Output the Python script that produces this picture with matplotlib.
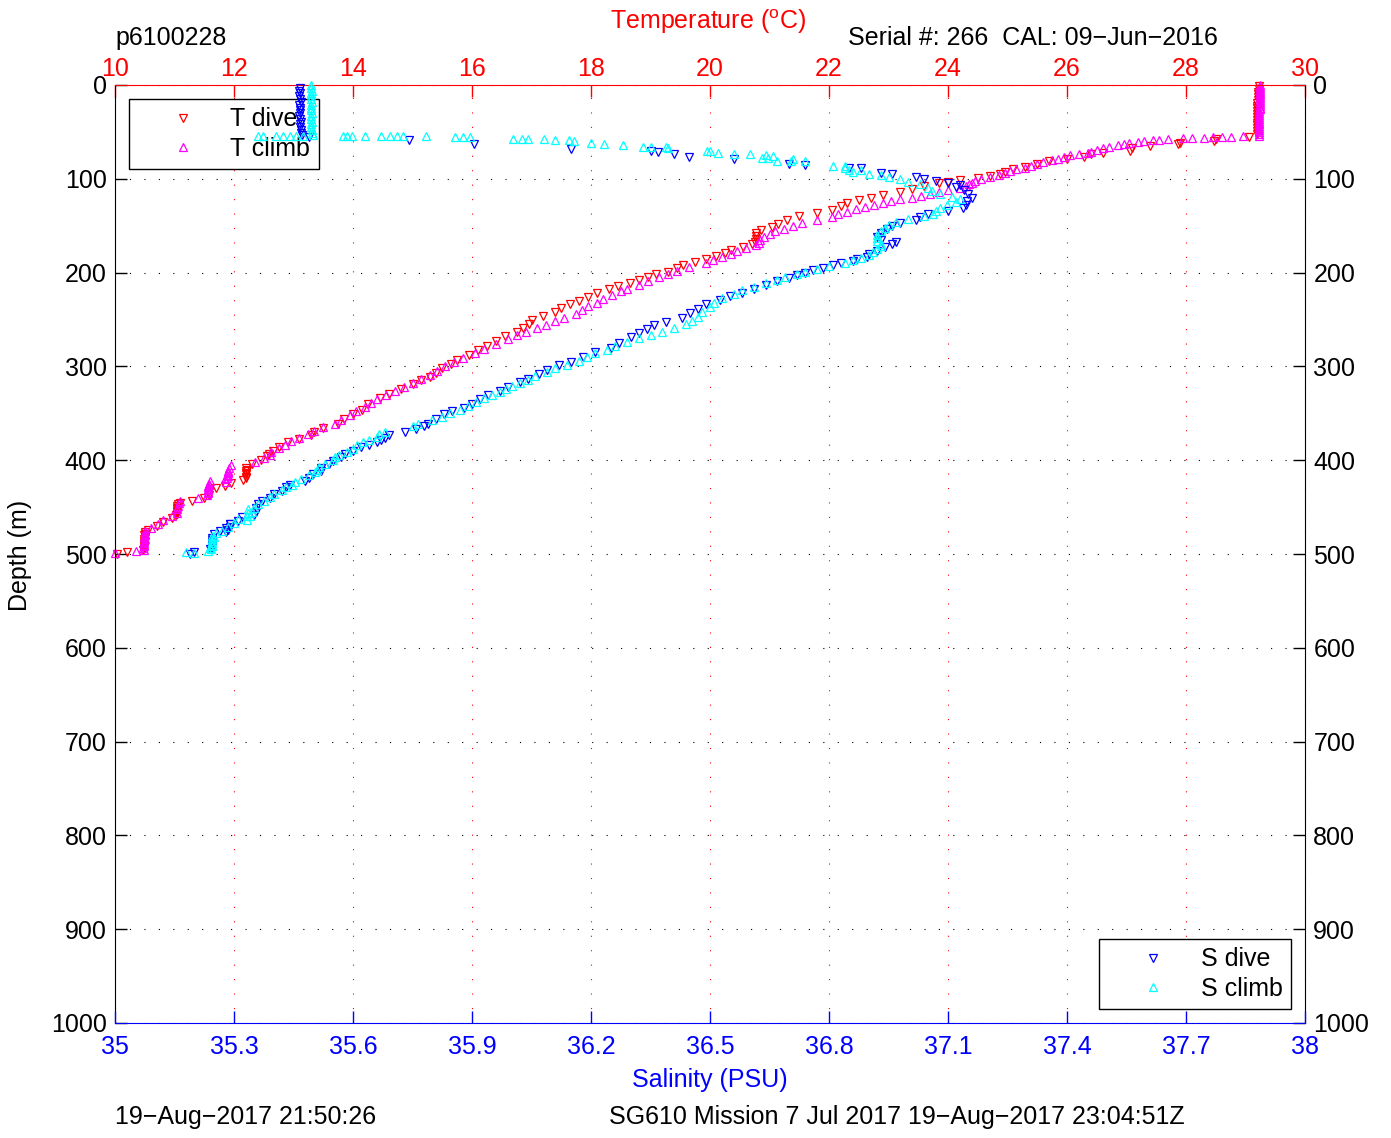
import matplotlib
matplotlib.use("Agg")
import matplotlib.pyplot as plt

plt.rcParams["font.family"] = ["Liberation Sans", "DejaVu Sans"]
plt.rcParams["mathtext.fontset"] = "custom"
plt.rcParams["mathtext.rm"] = "Liberation Sans"
plt.rcParams["mathtext.it"] = "Liberation Sans:italic"

FS = 18
W, H = 1391, 1138

# axis ticks
temp_ticks = [10, 12, 14, 16, 18, 20, 22, 24, 26, 28, 30]
sal_ticks = [35, 35.3, 35.6, 35.9, 36.2, 36.5, 36.8, 37.1, 37.4, 37.7, 38]
sal_labels = ["35", "35.3", "35.6", "35.9", "36.2", "36.5", "36.8", "37.1", "37.4", "37.7", "38"]
depth_ticks = [0, 100, 200, 300, 400, 500, 600, 700, 800, 900, 1000]

# temperature, dive
t_dive_depth = [
    1, 4, 7, 10, 13, 16, 19, 22, 25, 28, 31, 34, 37, 40, 43, 46, 49, 52,
    55, 58, 60, 62, 63, 65, 67, 70, 72, 74,
    77, 79, 81, 84, 87, 90, 93, 95, 97, 99,
    101, 103, 105, 108, 111, 114, 117, 120, 123, 126,
    129, 133, 136, 140, 144, 148, 151, 155, 158, 161,
    164, 167, 170, 173, 176, 179, 182, 185, 189, 192,
    195, 199, 202, 205, 208, 211, 214, 218, 222, 226,
    230, 234, 238, 242, 246, 251, 255, 259, 263, 268,
    273, 278, 283, 288, 293, 297, 302, 307, 311, 315,
    319, 324, 329, 334, 340, 346, 351, 356, 361, 366,
    370, 373, 377, 381, 386, 390, 393, 396, 400, 404,
    408, 411, 414, 418, 421, 424, 427, 430, 433, 437,
    440, 443, 446, 449, 452, 455, 458, 462, 466, 470,
    474, 477, 480, 484, 488, 492, 496, 498, 500,
    410, 415, 419, 447, 451, 454, 457, 479, 482, 486, 490, 494]
t_dive_temp = [
    29.22, 29.22, 29.21, 29.21, 29.21, 29.21, 29.20, 29.20, 29.20, 29.20,
    29.20, 29.20, 29.20, 29.20, 29.20, 29.20, 29.19, 29.19,
    29.06, 28.50, 28.47, 27.90, 27.87, 27.40, 27.10, 27.06, 26.60, 26.40,
    26.28, 26.00, 25.70, 25.50, 25.30, 25.10, 24.95, 24.87, 24.70, 24.50,
    24.20, 24.00, 23.85, 23.60, 23.40, 23.20, 22.90, 22.70, 22.50, 22.30,
    22.20, 22.05, 21.80, 21.50, 21.30, 21.15, 21.05, 20.85, 20.78, 20.78,
    20.77, 20.76, 20.70, 20.55, 20.35, 20.25, 20.10, 19.94, 19.75, 19.55,
    19.45, 19.30, 19.10, 18.95, 18.80, 18.65, 18.45, 18.30, 18.10, 17.95,
    17.80, 17.65, 17.50, 17.40, 17.20, 17.00, 16.95, 16.85, 16.75, 16.55,
    16.40, 16.25, 16.10, 15.95, 15.75, 15.65, 15.50, 15.40, 15.30, 15.15,
    15.00, 14.80, 14.60, 14.45, 14.25, 14.15, 14.00, 13.85, 13.75, 13.50,
    13.35, 13.30, 13.10, 12.90, 12.75, 12.65, 12.58, 12.55, 12.45, 12.30,
    12.20, 12.20, 12.20, 12.20, 12.15, 11.95, 11.85, 11.70, 11.58, 11.58,
    11.50, 11.30, 11.10, 11.05, 11.05, 11.04, 11.03, 10.95, 10.80, 10.70,
    10.55, 10.50, 10.49, 10.49, 10.49, 10.48, 10.47, 10.20, 10.04,
    12.22, 12.21, 12.20, 11.06, 11.05, 11.05, 11.04, 10.50, 10.50, 10.49, 10.49, 10.48]

# temperature, climb
t_climb_depth = [
    0, 2, 4, 6, 8, 10, 12, 14, 16, 18, 20, 22, 24, 26, 28, 30, 32, 34,
    36, 38, 40, 42, 44, 46, 48, 50, 52, 54,
    54.5, 55, 55, 55.5, 56, 56.5, 57, 58, 58.5, 59,
    60, 61, 62, 63, 64, 66, 67, 69, 71, 72,
    74, 75, 77, 79, 80, 82, 84, 86, 88, 90,
    92, 94, 96, 98, 100, 102, 104, 106, 108, 110,
    112, 114, 116, 118, 120, 122, 124, 126, 128, 130,
    132, 135, 138, 141, 144, 147, 150, 153, 156, 159,
    162, 165, 168, 171, 174, 177, 180, 183, 187, 190,
    194, 198, 202, 205, 209, 213, 217, 220, 224, 228,
    232, 236, 240, 244, 248, 252, 256, 259, 263, 267,
    271, 276, 281, 286, 291, 295, 300, 305, 309, 313,
    318, 322, 326, 331, 335, 339, 343, 348, 352, 357,
    361, 365, 369, 372, 376, 380, 384, 387, 391, 394,
    398, 402, 405, 408, 411, 414, 417, 420, 422, 425,
    428, 431, 434, 437, 440, 443, 446, 449, 452, 456,
    460, 464, 468, 472, 476, 479, 482, 486, 490, 494,
    497, 499,
    413, 416, 419, 423, 426, 429, 432, 435, 480, 484, 488, 492, 496]
t_climb_temp = [
    29.24, 29.24, 29.24, 29.24, 29.24, 29.24, 29.24, 29.24, 29.24, 29.24,
    29.24, 29.24, 29.24, 29.24, 29.23, 29.23, 29.23, 29.23, 29.23, 29.23,
    29.23, 29.23, 29.23, 29.23, 29.23, 29.23, 29.23, 29.22,
    28.95, 28.75, 28.60, 28.45, 28.30, 28.10, 27.95, 27.70, 27.55, 27.45,
    27.30, 27.20, 27.05, 26.95, 26.85, 26.70, 26.60, 26.50, 26.40, 26.35,
    26.20, 26.05, 25.95, 25.85, 25.75, 25.60, 25.50, 25.40, 25.30, 25.15,
    25.05, 24.95, 24.85, 24.70, 24.55, 24.45, 24.40, 24.35, 24.30, 24.20,
    24.00, 23.85, 23.70, 23.55, 23.40, 23.20, 23.05, 22.90, 22.75, 22.60,
    22.45, 22.30, 22.15, 22.05, 21.80, 21.55, 21.40, 21.25, 21.10, 21.00,
    20.90, 20.84, 20.82, 20.78, 20.60, 20.45, 20.35, 20.20, 20.05, 19.94,
    19.65, 19.45, 19.30, 19.15, 18.95, 18.80, 18.60, 18.50, 18.35, 18.20,
    18.10, 17.95, 17.85, 17.75, 17.55, 17.40, 17.25, 17.10, 16.90, 16.75,
    16.60, 16.40, 16.20, 16.05, 15.85, 15.70, 15.55, 15.42, 15.30, 15.15,
    15.00, 14.85, 14.70, 14.55, 14.40, 14.30, 14.20, 14.05, 13.95, 13.80,
    13.70, 13.50, 13.35, 13.25, 13.10, 12.95, 12.85, 12.75, 12.62, 12.60,
    12.50, 12.35, 11.95, 11.92, 11.90, 11.90, 11.90, 11.85, 11.60, 11.58,
    11.57, 11.57, 11.56, 11.55, 11.40, 11.10, 11.07, 11.06, 11.05, 11.04,
    10.95, 10.80, 10.72, 10.60, 10.50, 10.50, 10.49, 10.49, 10.48, 10.47,
    10.35, 10.00,
    11.90, 11.89, 11.88, 11.87, 11.58, 11.57, 11.57, 11.56, 10.50, 10.50, 10.49, 10.49, 10.48]

# salinity, dive
s_dive_depth = [
    3, 6, 9, 12, 15, 18, 21, 24, 27, 30, 33, 36, 39, 42, 45, 48, 51, 53,
    55, 59, 63, 68, 70, 71, 74, 77, 79, 84,
    85, 88, 89, 94, 95, 98, 100, 102, 104, 107,
    109, 112, 116, 120, 124, 128, 131, 134, 138, 141,
    144, 147, 150, 154, 158, 162, 165, 167, 170, 173,
    177, 180, 183, 186, 188, 190, 192, 195, 197, 200,
    203, 206, 209, 213, 217, 222, 225, 229, 234, 239,
    243, 248, 253, 256, 260, 264, 269, 275, 280, 285,
    290, 295, 299, 304, 308, 313, 317, 322, 326, 331,
    335, 340, 344, 348, 351, 356, 361, 364, 367, 370,
    373, 376, 378, 381, 384, 386, 390, 393, 397, 401,
    404, 408, 412, 415, 419, 422, 426, 429, 433, 436,
    440, 444, 447, 451, 455, 458, 461, 465, 468, 472,
    476, 479, 483, 487, 491, 495, 498, 500,
    468, 471, 474, 477, 485, 489, 493]
s_dive_sal = [
    35.466, 35.465, 35.467, 35.464, 35.466, 35.468, 35.465, 35.466, 35.467, 35.466,
    35.465, 35.466, 35.468, 35.467, 35.466, 35.468, 35.470, 35.472,
    35.490, 35.740, 35.905, 36.150, 36.350, 36.370, 36.410, 36.446, 36.560, 36.700,
    36.740, 36.850, 36.880, 36.930, 36.960, 37.020, 37.040, 37.070, 37.100, 37.130,
    37.120, 37.140, 37.150, 37.160, 37.147, 37.145, 37.139, 37.100, 37.050, 37.030,
    37.020, 36.980, 36.960, 36.945, 36.930, 36.920, 36.930, 36.970, 36.960, 36.940,
    36.920, 36.900, 36.895, 36.870, 36.860, 36.830, 36.810, 36.785, 36.760, 36.740,
    36.720, 36.700, 36.670, 36.640, 36.610, 36.580, 36.550, 36.525, 36.490, 36.470,
    36.450, 36.430, 36.390, 36.360, 36.340, 36.320, 36.300, 36.270, 36.250, 36.210,
    36.180, 36.150, 36.120, 36.090, 36.070, 36.040, 36.020, 35.990, 35.970, 35.940,
    35.920, 35.900, 35.880, 35.850, 35.830, 35.810, 35.790, 35.780, 35.760, 35.730,
    35.690, 35.680, 35.670, 35.660, 35.640, 35.620, 35.600, 35.580, 35.570, 35.550,
    35.540, 35.520, 35.520, 35.500, 35.490, 35.480, 35.440, 35.430, 35.420, 35.400,
    35.390, 35.370, 35.360, 35.355, 35.355, 35.350, 35.320, 35.310, 35.290, 35.280,
    35.265, 35.250, 35.245, 35.245, 35.245, 35.240, 35.200, 35.190,
    35.290, 35.290, 35.285, 35.280, 35.245, 35.245, 35.244]

# salinity, climb
s_climb_depth = [
    0, 3, 6, 9, 12, 15, 18, 21, 24, 27, 30, 33, 36, 39, 42, 45, 48, 51, 53,
    54, 54, 54, 54, 54, 54, 54.3, 54, 54, 54,
    54, 54.3, 54.3, 54.5, 54.5, 54.5, 55.1, 55.3, 55.8, 57.2,
    57.5, 57.5, 58, 58.3, 58.7, 59.2, 62.2, 63, 64, 66,
    66.4, 66.4, 67, 70, 70.5, 72, 73.5, 74, 75, 76,
    77.5, 78, 79, 81, 81, 81.5, 86, 86.5, 89, 91,
    93, 91, 95, 96, 98, 100, 103, 106, 110, 113,
    116, 119, 122, 125, 128, 131, 134, 137, 140, 143,
    146, 149, 152, 156, 160, 163, 166, 169, 172, 175,
    178, 181, 184, 187, 190, 193, 196, 199, 202, 205,
    208, 211, 215, 219, 223, 227, 232, 237, 242, 247,
    252, 255, 259, 263, 266, 270, 274, 278, 282, 286,
    290, 294, 298, 302, 306, 310, 314, 318, 321, 324,
    327, 330, 334, 338, 342, 346, 350, 354, 357, 361,
    364, 370, 372, 375, 378, 381, 384, 388, 391, 394,
    397, 400, 404, 407, 410, 413, 416, 420, 423, 426,
    429, 432, 436, 439, 443, 447, 451, 455, 459, 463,
    467, 471, 475, 478, 482, 486, 490, 494, 497, 499,
    498,
    452, 456, 460, 464, 481, 484, 488, 492, 495]
s_climb_sal = [
    35.495, 35.494, 35.496, 35.494, 35.495, 35.494, 35.496, 35.495, 35.494, 35.495,
    35.496, 35.494, 35.495, 35.496, 35.494, 35.495, 35.496, 35.497, 35.498,
    35.360, 35.372, 35.406, 35.423, 35.440, 35.456, 35.473, 35.575, 35.586, 35.597,
    35.631, 35.670, 35.693, 35.710, 35.727, 35.783, 35.856, 35.878, 35.896, 36.003,
    36.025, 36.042, 36.082, 36.110, 36.144, 36.156, 36.200, 36.234, 36.280, 36.330,
    36.350, 36.390, 36.395, 36.493, 36.499, 36.520, 36.560, 36.600, 36.640, 36.660,
    36.630, 36.645, 36.710, 36.670, 36.705, 36.740, 36.810, 36.840, 36.840, 36.850,
    36.860, 36.880, 36.900, 36.930, 36.950, 36.980, 37.000, 37.030, 37.050, 37.060,
    37.080, 37.110, 37.130, 37.120, 37.097, 37.080, 37.070, 37.063, 37.040, 37.000,
    36.970, 36.950, 36.940, 36.930, 36.920, 36.920, 36.920, 36.930, 36.930, 36.920,
    36.910, 36.900, 36.880, 36.860, 36.840, 36.800, 36.770, 36.740, 36.720, 36.690,
    36.670, 36.640, 36.610, 36.580, 36.560, 36.530, 36.510, 36.500, 36.480, 36.470,
    36.455, 36.440, 36.410, 36.380, 36.350, 36.320, 36.290, 36.260, 36.240, 36.210,
    36.190, 36.170, 36.140, 36.110, 36.090, 36.060, 36.040, 36.020, 36.000, 35.985,
    35.970, 35.950, 35.930, 35.910, 35.890, 35.870, 35.845, 35.825, 35.800, 35.765,
    35.750, 35.680, 35.665, 35.660, 35.640, 35.625, 35.610, 35.600, 35.585, 35.565,
    35.555, 35.550, 35.530, 35.515, 35.510, 35.505, 35.490, 35.470, 35.455, 35.445,
    35.430, 35.420, 35.400, 35.390, 35.375, 35.360, 35.350, 35.345, 35.340, 35.310,
    35.300, 35.285, 35.270, 35.255, 35.250, 35.245, 35.245, 35.240, 35.235, 35.200,
    35.180,
    35.335, 35.335, 35.334, 35.333, 35.245, 35.244, 35.244, 35.244, 35.243]

fig = plt.figure(figsize=(W / 100, H / 100), dpi=100)
axT = fig.add_axes([115 / W, 1 - 1023 / H, 1190 / W, 938 / H])
axS = axT.twiny()

mk = dict(linestyle="none", markersize=6.3, markerfacecolor="none",
          markeredgewidth=0.9, clip_on=False)
axT.plot(t_dive_temp, t_dive_depth, "v", color="red", label="T dive", **mk)
axT.plot(t_climb_temp, t_climb_depth, "^", color="magenta", label="T climb", **mk)
axS.plot(s_dive_sal, s_dive_depth, "v", color="blue", label="S dive", **mk)
axS.plot(s_climb_sal, s_climb_depth, "^", color="cyan", label="S climb", **mk)

axT.set_xlim(10, 30)
axT.set_xticks(temp_ticks)
axT.set_ylim(1000, 0)
axT.set_yticks(depth_ticks)
axS.set_xlim(35, 38)
axS.set_xticks(sal_ticks)
axS.set_xticklabels(sal_labels)

axT.xaxis.tick_top()
axT.tick_params(axis="x", colors="red", direction="in", length=8.6, width=1,
                labelsize=FS, pad=3)
axT.tick_params(axis="y", direction="in", length=8.6, width=1, labelsize=FS,
                left=True, right=True, labelleft=True, labelright=True, pad=6)
axS.xaxis.tick_bottom()
axS.tick_params(axis="x", colors="blue", direction="in", length=8.6, width=1,
                labelsize=FS, pad=9)

dots = (0, (1, 12))
axT.grid(axis="x", color="red", linestyle=dots, linewidth=0.8)
axT.grid(axis="y", color="black", linestyle=dots, linewidth=0.8)

axT.spines["bottom"].set_visible(False)
axT.spines["top"].set_color("red")
for s in ("top", "left", "right"):
    axS.spines[s].set_visible(False)
axS.spines["bottom"].set_color("blue")

leg_kw = dict(fontsize=FS, numpoints=1, handlelength=3.6, handletextpad=0.1,
              borderpad=0.35, labelspacing=0.2, borderaxespad=0.55,
              fancybox=False, edgecolor="black", framealpha=1)
legT = axT.legend(loc="upper left", **leg_kw)
legT.get_frame().set_linewidth(1.0)
legS = axS.legend(loc="lower right", **leg_kw)
legS.get_frame().set_linewidth(1.0)

fig.text(708 / W, 1 - 22 / H, r"Temperature ($^{\mathrm{o}}$C)", color="red",
         ha="center", va="center", fontsize=FS)
fig.text(710 / W, 1 - 1080 / H, "Salinity (PSU)", color="blue",
         ha="center", va="center", fontsize=FS)
fig.text(20 / W, 1 - 555 / H, "Depth (m)", rotation=90,
         ha="center", va="center", fontsize=FS)
fig.text(115 / W, 1 - 38 / H, "p6100228", ha="left", va="center", fontsize=FS)
fig.text(1033 / W, 1 - 38 / H, "Serial #: 266  CAL: 09\u2212Jun\u22122016",
         ha="center", va="center", fontsize=FS)
fig.text(115 / W, 1 - 1117 / H, "19\u2212Aug\u22122017 21:50:26",
         ha="left", va="center", fontsize=FS)
fig.text(897 / W, 1 - 1117 / H,
         "SG610 Mission 7 Jul 2017 19\u2212Aug\u22122017 23:04:51Z",
         ha="center", va="center", fontsize=FS)

fig.savefig("out.png", dpi=100)
